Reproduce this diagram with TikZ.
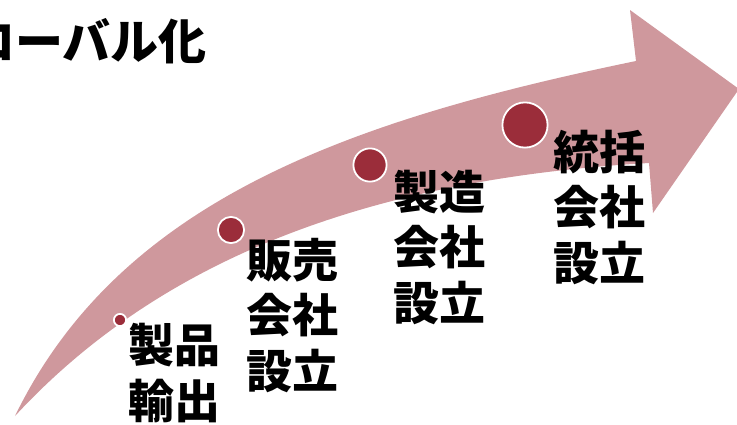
\documentclass[tikz,border=0pt]{standalone}
\usepackage{fontspec}
\newfontfamily\jpfont{Noto Sans CJK JP}
\definecolor{arrowpink}{RGB}{207,152,157}
\definecolor{dotred}{RGB}{155,45,58}
\begin{document}
\begin{tikzpicture}[x=1pt,y=-1pt,
  milestone/.style={circle, fill=dotred, draw=white, line width=1.8pt, inner sep=0},
  steptext/.style={anchor=base west, inner sep=0, font=\jpfont\bfseries\fontsize{46}{55.5}\selectfont},
  titletext/.style={anchor=base east, inner sep=0, font=\jpfont\bfseries\fontsize{48}{55}\selectfont},
]
\useasboundingbox (0,0) rectangle (737,424);
\begin{scope}
\clip (0,0) rectangle (737,424);
% big curved arrow
\fill[arrowpink] (15,416) .. controls (120,200) and (350,120) .. (636,61)
  -- (630,10) -- (739,89) -- (653,213) -- (649,163)
  .. controls (350,180) and (150,270) .. (15,416) -- cycle;
% title
\node[titletext] (title) at (207,59) {ローバル化};
\end{scope}
% milestones
\node[milestone, minimum size=12.2pt] (d1) at (120,320) {};
\node[milestone, minimum size=26.2pt] (d2) at (231,230) {};
\node[milestone, minimum size=33.2pt] (d3) at (370,165) {};
\node[milestone, minimum size=45.2pt] (d4) at (525,125) {};
% texts
\node[steptext] (t1) at (128,362.5) {\begin{tabular}[t]{@{}l@{}}製品\\輸出\end{tabular}};
\node[steptext] (t2) at (246,277) {\begin{tabular}[t]{@{}l@{}}販売\\会社\\設立\end{tabular}};
\node[steptext] (t3) at (393,209) {\begin{tabular}[t]{@{}l@{}}製造\\会社\\設立\end{tabular}};
\node[steptext] (t4) at (553,169) {\begin{tabular}[t]{@{}l@{}}統括\\会社\\設立\end{tabular}};
\end{tikzpicture}
\end{document}
